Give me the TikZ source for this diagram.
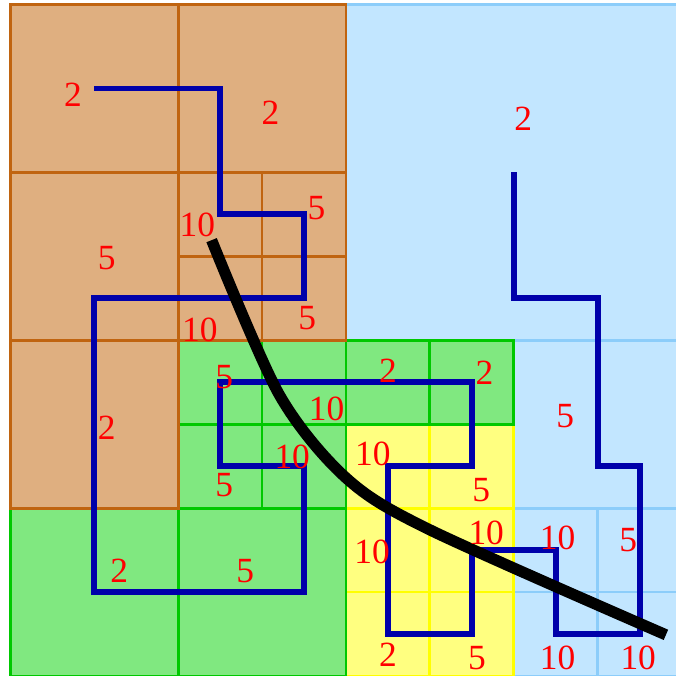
\documentclass[tikz,border=0pt]{standalone}
\usepackage{fontspec}
\setmainfont{Liberation Serif}
\usetikzlibrary{positioning}

\definecolor{brownfill}{RGB}{223,175,128}
\definecolor{brownline}{RGB}{192,100,16}
\definecolor{greenfill}{RGB}{128,232,128}
\definecolor{greenline}{RGB}{0,200,0}
\definecolor{yellowfill}{RGB}{255,255,128}
\definecolor{yellowline}{RGB}{255,255,0}
\definecolor{bluefill}{RGB}{194,230,255}
\definecolor{blueline}{RGB}{140,205,250}
\definecolor{curveblue}{RGB}{0,0,170}

\begin{document}
\begin{tikzpicture}[
    browncell/.style={fill=brownfill, draw=brownline, line width=1pt},
    greencell/.style={fill=greenfill, draw=greenline, line width=1pt},
    yellowcell/.style={fill=yellowfill, draw=yellowline, line width=1pt},
    bluecell/.style={fill=bluefill, draw=blueline, line width=1pt},
    hilbert/.style={draw=curveblue, line width=1.8pt},
    cut/.style={draw=black, line width=3.8pt},
    val/.style={text=red, inner sep=0pt, font=\fontsize{12}{14}\selectfont}
]
\useasboundingbox (-0.12,0) rectangle (7.93,8.05);

% Light blue cells
\draw[bluecell] (4,4) rectangle (8,8);
\draw[bluecell] (6,2) rectangle (8,4);
\draw[bluecell] (6,0) rectangle (7,1);
\draw[bluecell] (7,0) rectangle (8,1);
\draw[bluecell] (6,1) rectangle (7,2);
\draw[bluecell] (7,1) rectangle (8,2);

% Yellow cells
\draw[yellowcell] (4,0) rectangle (5,1);
\draw[yellowcell] (5,0) rectangle (6,1);
\draw[yellowcell] (4,1) rectangle (5,2);
\draw[yellowcell] (5,1) rectangle (6,2);
\draw[yellowcell] (4,2) rectangle (5,3);
\draw[yellowcell] (5,2) rectangle (6,3);

% Green cells
\draw[greencell] (0,0) rectangle (2,2);
\draw[greencell] (2,0) rectangle (4,2);
\draw[greencell] (2,2) rectangle (3,3);
\draw[greencell] (3,2) rectangle (4,3);
\draw[greencell] (2,3) rectangle (3,4);
\draw[greencell] (3,3) rectangle (4,4);
\draw[greencell] (4,3) rectangle (5,4);
\draw[greencell] (5,3) rectangle (6,4);

% Brown cells
\draw[browncell] (0,2) rectangle (2,4);
\draw[browncell] (0,4) rectangle (2,6);
\draw[browncell] (0,6) rectangle (2,8);
\draw[browncell] (2,6) rectangle (4,8);
\draw[browncell] (2,4) rectangle (3,5);
\draw[browncell] (3,4) rectangle (4,5);
\draw[browncell] (2,5) rectangle (3,6);
\draw[browncell] (3,5) rectangle (4,6);

% Space-filling path
\draw[hilbert] (1,7) -- (2.5,7) -- (2.5,5.5) -- (3.5,5.5) -- (3.5,4.5)
    -- (1,4.5) -- (1,1) -- (3.5,1) -- (3.5,2.5) -- (2.5,2.5) -- (2.5,3.5)
    -- (5.5,3.5) -- (5.5,2.5) -- (4.5,2.5) -- (4.5,0.5) -- (5.5,0.5)
    -- (5.5,1.5) -- (6.5,1.5) -- (6.5,0.5) -- (7.5,0.5) -- (7.5,2.5)
    -- (7,2.5) -- (7,4.5) -- (6,4.5) -- (6,6);

% Interface curve
\draw[cut] plot[smooth, tension=0.5] coordinates {(2.4,5.19) (3.2,3.36)
    (4.0,2.36) (5.0,1.74) (7.81,0.49)};

% Cell values
\node[val] (v1) at (0.75,6.92) {2};
\node[val] (v2) at (3.10,6.71) {2};
\node[val] (v3) at (3.65,5.57) {5};
\node[val] (v4) at (2.23,5.37) {10};
\node[val] (v5) at (1.15,4.98) {5};
\node[val] (v6) at (3.54,4.26) {5};
\node[val] (v7) at (2.26,4.12) {10};
\node[val] (v8) at (6.11,6.63) {2};
\node[val] (v9) at (2.55,3.56) {5};
\node[val] (v10) at (3.77,3.18) {10};
\node[val] (v11) at (1.15,2.96) {2};
\node[val] (v12) at (3.36,2.61) {10};
\node[val] (v13) at (2.55,2.27) {5};
\node[val] (v14) at (1.30,1.25) {2};
\node[val] (v15) at (2.80,1.25) {5};
\node[val] (v16) at (4.50,3.64) {2};
\node[val] (v17) at (5.65,3.61) {2};
\node[val] (v18) at (6.61,3.10) {5};
\node[val] (v19) at (4.32,2.65) {10};
\node[val] (v20) at (5.61,2.21) {5};
\node[val] (v21) at (5.67,1.71) {10};
\node[val] (v22) at (6.52,1.65) {10};
\node[val] (v23) at (7.36,1.62) {5};
\node[val] (v24) at (4.31,1.48) {10};
\node[val] (v25) at (4.50,0.25) {2};
\node[val] (v26) at (5.56,0.21) {5};
\node[val] (v27) at (6.52,0.21) {10};
\node[val] (v28) at (7.48,0.21) {10};

\end{tikzpicture}
\end{document}
